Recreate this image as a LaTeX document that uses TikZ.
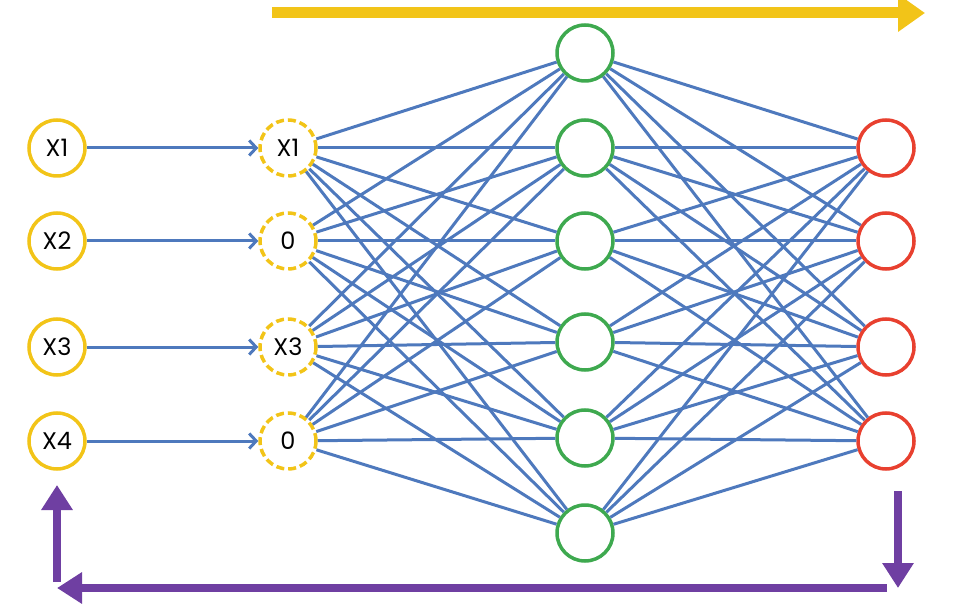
\documentclass[tikz,border=0pt]{standalone}
\usepackage{fontspec}
\setmainfont{Poppins}
\usetikzlibrary{arrows.meta}
\definecolor{giallo}{HTML}{F2C418}
\definecolor{verde}{HTML}{3EA94F}
\definecolor{rosso}{HTML}{E8402F}
\definecolor{blu}{HTML}{4E79BD}
\definecolor{viola}{HTML}{6F3FA2}
\begin{document}
\begin{tikzpicture}[x=1pt,y=1pt,font=\fontsize{24}{28}\selectfont,
  neurone/.style={circle,draw,line width=3.5pt,fill=white,minimum size=56pt,inner sep=0pt},
  ingresso/.style={neurone,draw=giallo},
  spento/.style={neurone,draw=giallo,dash pattern=on 8pt off 4pt},
  nascosto/.style={neurone,draw=verde},
  uscita/.style={neurone,draw=rosso},
  collegamento/.style={draw=blu,line width=3pt}]
\useasboundingbox (0,0) rectangle (955,603);
% strati
\node[ingresso] (x1) at (57,455) {X1};
\node[ingresso] (x2) at (57,362) {X2};
\node[ingresso] (x3) at (57,256) {X3};
\node[ingresso] (x4) at (57,162) {X4};
\node[spento] (d1) at (288,455) {X1};
\node[spento] (d2) at (288,362) {0};
\node[spento] (d3) at (288,256) {X3};
\node[spento] (d4) at (288,162) {0};
\node[nascosto] (h1) at (585,550) {};
\node[nascosto] (h2) at (585,455) {};
\node[nascosto] (h3) at (585,362) {};
\node[nascosto] (h4) at (585,261) {};
\node[nascosto] (h5) at (585,165) {};
\node[nascosto] (h6) at (585,70) {};
\node[uscita] (y1) at (886,455) {};
\node[uscita] (y2) at (886,362) {};
\node[uscita] (y3) at (886,256) {};
\node[uscita] (y4) at (886,162) {};
% collegamenti
\foreach \i in {1,...,4}
  \foreach \j in {1,...,6}
    {\draw[collegamento] (d\i) -- (h\j);
     \draw[collegamento] (h\j) -- (y\i);}
\foreach \i in {1,...,4}
  \draw[collegamento,-{Straight Barb[length=7pt,width=15pt]}] (x\i) -- (d\i);
% frecce
\coordinate (avantiA) at (272,590);
\coordinate (avantiB) at (925,590);
\draw[giallo,line width=11pt,-{Triangle[width=36pt,length=27pt]}] (avantiA) -- (avantiB);
\coordinate (indietroA) at (898,112);
\coordinate (indietroB) at (898,15);
\coordinate (indietroC) at (887,15);
\coordinate (indietroD) at (57,15);
\coordinate (indietroE) at (57,21);
\coordinate (indietroF) at (57,118);
\draw[viola,line width=8pt,-{Triangle[width=30pt,length=25pt]}] (indietroA) -- (indietroB);
\draw[viola,line width=8pt,-{Triangle[width=30pt,length=25pt]}] (indietroC) -- (indietroD);
\draw[viola,line width=8pt,-{Triangle[width=30pt,length=25pt]}] (indietroE) -- (indietroF);
\end{tikzpicture}
\end{document}
